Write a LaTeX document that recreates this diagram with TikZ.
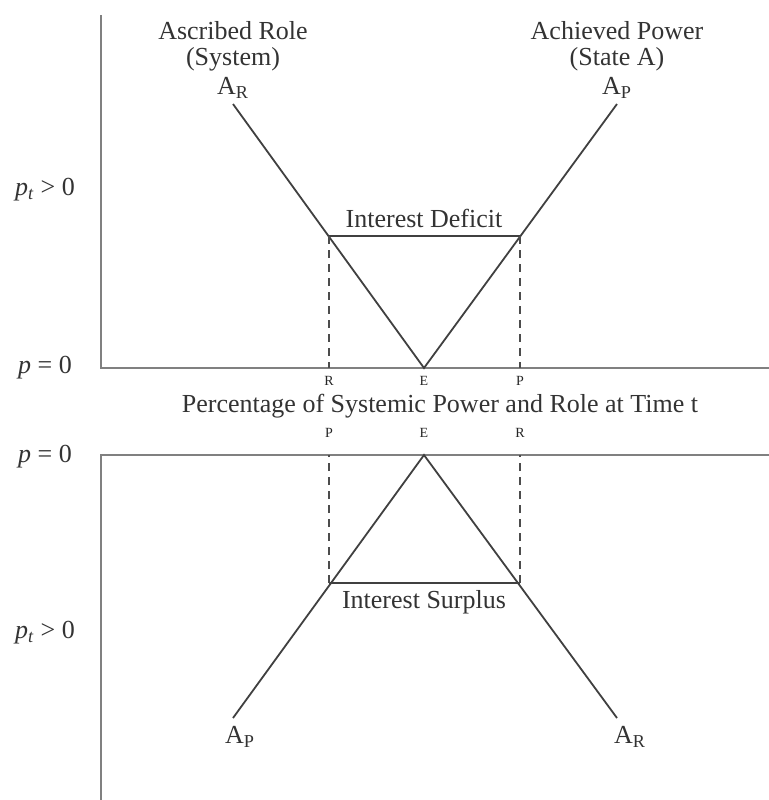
\documentclass[tikz,border=0pt]{standalone}
\usepackage{fontspec}
\setmainfont{Liberation Serif}
\usetikzlibrary{calc}

\begin{document}
\begin{tikzpicture}[x=0.5pt,y=-0.5pt,
    axis/.style={line width=1.1pt,black!50},
    ray/.style={line width=0.9pt,black!75},
    guide/.style={line width=0.9pt,black!70,dash pattern=on 4pt off 3pt},
    lbl/.style={font=\fontsize{13}{13}\selectfont,text=black!80,inner sep=0pt,align=center},
    tck/.style={font=\fontsize{7}{8}\selectfont,text=black!85,inner sep=0pt}]
        \useasboundingbox (0,0) rectangle (769,800);
        % upper panel: interest deficit
        \coordinate (o1) at (101,368);
        \coordinate (E1) at (424,368);
        \coordinate (R1) at (329,236);
        \coordinate (P1) at (520,236);
        \coordinate (AR1) at (233,104);
        \coordinate (AP1) at (617,104);
        \draw[axis] (101,15) -- (o1) -- (769,368);
        \draw[ray] (AR1) -- (E1) -- (AP1);
        \draw[ray] (R1) -- (P1);
        \draw[guide] (R1) -- (R1 |- o1);
        \draw[guide] (P1) -- (P1 |- o1);
        \node[lbl] (roleTop) at (233,46) {Ascribed Role\\(System)};
        \node[lbl] (arTop) at (233,88) {A\textsubscript{R}};
        \node[lbl] (powTop) at (617,46) {Achieved Power\\(State A)};
        \node[lbl] (apTop) at (617,88) {A\textsubscript{P}};
        \node[lbl] (deficit) at (424,218) {Interest Deficit};
        \node[lbl] (ptTop) at (45,190) {\textit{p\textsubscript{t}} > 0};
        \node[lbl] (pzTop) at (45,368) {\textit{p} = 0};
        \node[tck] (rTop) at (329,381) {R};
        \node[tck] (eTop) at (424,381) {E};
        \node[tck] (pTop) at (520,381) {P};
        % axis caption
        \node[lbl] (caption) at (440,406) {Percentage of Systemic Power and Role at Time t};
        % lower panel: interest surplus
        \coordinate (o2) at (101,455);
        \coordinate (E2) at (424,455);
        \coordinate (P2) at (329,583);
        \coordinate (R2) at (520,583);
        \coordinate (AP2) at (233,718);
        \coordinate (AR2) at (617,718);
        \draw[axis] (101,800) -- (o2) -- (769,455);
        \draw[ray] (AP2) -- (E2) -- (AR2);
        \draw[ray] (P2) -- (R2);
        \draw[guide] (P2) -- (P2 |- o2);
        \draw[guide] (R2) -- (R2 |- o2);
        \node[tck] (pBot) at (329,433) {P};
        \node[tck] (eBot) at (424,433) {E};
        \node[tck] (rBot) at (520,433) {R};
        \node[lbl] (surplus) at (424,602) {Interest Surplus};
        \node[lbl] (apBot) at (240,737) {A\textsubscript{P}};
        \node[lbl] (arBot) at (630,737) {A\textsubscript{R}};
        \node[lbl] (ptBot) at (45,633) {\textit{p\textsubscript{t}} > 0};
        \node[lbl] (pzBot) at (45,457) {\textit{p} = 0};
\end{tikzpicture}
\end{document}
